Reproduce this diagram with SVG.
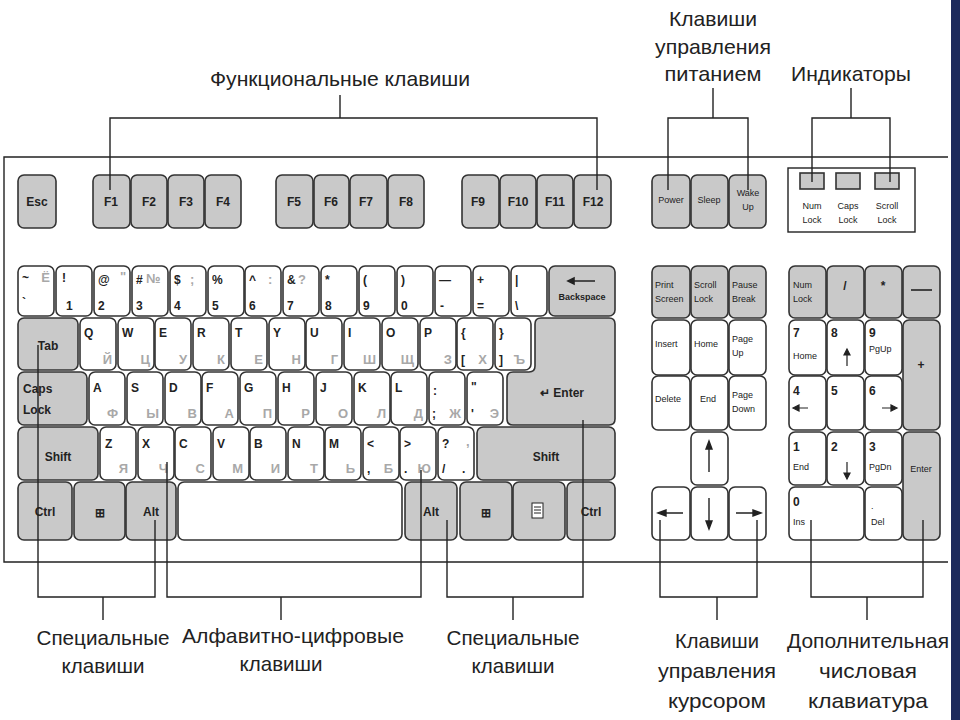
<svg xmlns="http://www.w3.org/2000/svg" width="960" height="720" viewBox="0 0 960 720">
<style>
.k{fill:#fff;stroke:#333;stroke-width:1.6}
.g{fill:#c9c9c9;stroke:#333;stroke-width:1.6}
text{font-family:"Liberation Sans",Arial,sans-serif}
.t{font-size:12px;font-weight:bold;fill:#222}
.s{font-size:9px;fill:#222}
.c{font-size:13px;fill:#a8a8a8;font-weight:bold}
.L{font-size:21px;fill:#222}
.ln{fill:none;stroke:#222;stroke-width:1.4}
</style>
<rect width="960" height="720" fill="#fff"/>
<rect x="951" y="0" width="9" height="720" fill="#1c2a5c"/>
<path class="ln" d="M948,157 H4 V562 H948" stroke-width="1.6"/>
<g id="fkeys" text-anchor="middle">
<rect class="g" x="18" y="175" width="38" height="53" rx="6"/><text class="t" x="37" y="206" font-size="11">Esc</text>
<rect class="g" x="93" y="175" width="37" height="53" rx="6"/><text class="t" x="111" y="206">F1</text>
<rect class="g" x="131" y="175" width="36" height="53" rx="6"/><text class="t" x="149" y="206">F2</text>
<rect class="g" x="168" y="175" width="36" height="53" rx="6"/><text class="t" x="186" y="206">F3</text>
<rect class="g" x="205" y="175" width="36" height="53" rx="6"/><text class="t" x="223" y="206">F4</text>
<rect class="g" x="276" y="175" width="37" height="53" rx="6"/><text class="t" x="294" y="206">F5</text>
<rect class="g" x="314" y="175" width="35" height="53" rx="6"/><text class="t" x="331" y="206">F6</text>
<rect class="g" x="350" y="175" width="37" height="53" rx="6"/><text class="t" x="366" y="206">F7</text>
<rect class="g" x="388" y="175" width="36" height="53" rx="6"/><text class="t" x="406" y="206">F8</text>
<rect class="g" x="462" y="175" width="37" height="53" rx="6"/><text class="t" x="478" y="206">F9</text>
<rect class="g" x="500" y="175" width="36" height="53" rx="6"/><text class="t" x="518" y="206">F10</text>
<rect class="g" x="537" y="175" width="36" height="53" rx="6"/><text class="t" x="555" y="206">F11</text>
<rect class="g" x="574" y="175" width="37" height="53" rx="6"/><text class="t" x="593" y="206">F12</text>
</g>
<g id="power" text-anchor="middle">
<rect class="g" x="652" y="175" width="38" height="53" rx="6"/><text class="s" x="671" y="203">Power</text>
<rect class="g" x="691" y="175" width="37" height="53" rx="6"/><text class="s" x="709" y="203">Sleep</text>
<rect class="g" x="729" y="175" width="37" height="53" rx="6"/><text class="s" x="748" y="196">Wake</text><text class="s" x="748" y="210" font-size="10">Up</text>
</g>
<g id="indicators" text-anchor="middle">
<rect x="788" y="168" width="127" height="64" fill="#fff" stroke="#222" stroke-width="1.4"/>
<rect class="g" x="800" y="173" width="24" height="16"/><rect class="g" x="836" y="173" width="24" height="16"/><rect class="g" x="875" y="173" width="24" height="16"/>
<text class="s" x="812" y="209">Num</text><text class="s" x="812" y="223">Lock</text>
<text class="s" x="848" y="209">Caps</text><text class="s" x="848" y="223">Lock</text>
<text class="s" x="887" y="209">Scroll</text><text class="s" x="887" y="223">Lock</text>
</g>
<g id="row1">
<rect class="k" x="18" y="266" width="36" height="50" rx="6"/><text class="t" x="22" y="282">~</text><text class="t" x="22" y="307">`</text><text class="c" x="50" y="282" text-anchor="end">Ё</text>
<rect class="k" x="56" y="266" width="36" height="50" rx="6"/><text class="t" x="62" y="282">!</text><text class="t" x="66" y="310">1</text>
<rect class="k" x="94" y="266" width="36" height="50" rx="6"/><text class="t" x="98" y="284">@</text><text class="c" x="120" y="281" font-size="10">"</text><text class="t" x="98" y="310">2</text>
<rect class="k" x="132" y="266" width="36" height="50" rx="6"/><text class="t" x="136" y="284">#</text><text class="c" x="146" y="283" font-size="10">№</text><text class="t" x="136" y="310">3</text>
<rect class="k" x="170" y="266" width="36" height="50" rx="6"/><text class="t" x="174" y="284">$</text><text class="c" x="190" y="284">;</text><text class="t" x="174" y="310">4</text>
<rect class="k" x="208" y="266" width="36" height="50" rx="6"/><text class="t" x="212" y="284">%</text><text class="t" x="212" y="310">5</text>
<rect class="k" x="245" y="266" width="36" height="50" rx="6"/><text class="t" x="249" y="284">^</text><text class="c" x="268" y="284">:</text><text class="t" x="249" y="310">6</text>
<rect class="k" x="283" y="266" width="36" height="50" rx="6"/><text class="t" x="287" y="284">&amp;</text><text class="c" x="298" y="284">?</text><text class="t" x="287" y="310">7</text>
<rect class="k" x="321" y="266" width="36" height="50" rx="6"/><text class="t" x="325" y="284">*</text><text class="t" x="325" y="310">8</text>
<rect class="k" x="359" y="266" width="36" height="50" rx="6"/><text class="t" x="363" y="284">(</text><text class="t" x="363" y="310">9</text>
<rect class="k" x="397" y="266" width="36" height="50" rx="6"/><text class="t" x="401" y="284">)</text><text class="t" x="401" y="310">0</text>
<rect class="k" x="435" y="266" width="36" height="50" rx="6"/><text class="t" x="439" y="284">—</text><text class="t" x="440" y="310">-</text>
<rect class="k" x="473" y="266" width="36" height="50" rx="6"/><text class="t" x="477" y="284">+</text><text class="t" x="477" y="310">=</text>
<rect class="k" x="511" y="266" width="36" height="50" rx="6"/><text class="t" x="515" y="284">|</text><text class="t" x="515" y="310">\</text>
<rect class="g" x="549" y="266" width="66" height="50" rx="6"/><path d="M568,281 H595 M568,281 l6,-3 v6z" stroke="#222" stroke-width="1.6" fill="#222"/><text class="s" x="582" y="300" text-anchor="middle" font-weight="bold" font-size="8.5">Backspace</text>
</g>
<g id="row2">
<rect class="g" x="18" y="318" width="60" height="52" rx="6"/><text class="t" x="48" y="350" text-anchor="middle">Tab</text>
<rect class="k" x="80" y="318" width="36" height="52" rx="6"/><text class="t" x="84" y="337" font-size="13">Q</text><text class="c" x="112" y="364" text-anchor="end">Й</text>
<rect class="k" x="118" y="318" width="36" height="52" rx="6"/><text class="t" x="122" y="337" font-size="13">W</text><text class="c" x="150" y="364" text-anchor="end">Ц</text>
<rect class="k" x="155" y="318" width="36" height="52" rx="6"/><text class="t" x="159" y="337" font-size="13">E</text><text class="c" x="187" y="364" text-anchor="end">У</text>
<rect class="k" x="193" y="318" width="36" height="52" rx="6"/><text class="t" x="197" y="337" font-size="13">R</text><text class="c" x="225" y="364" text-anchor="end">К</text>
<rect class="k" x="231" y="318" width="36" height="52" rx="6"/><text class="t" x="235" y="337" font-size="13">T</text><text class="c" x="263" y="364" text-anchor="end">Е</text>
<rect class="k" x="269" y="318" width="36" height="52" rx="6"/><text class="t" x="273" y="337" font-size="13">Y</text><text class="c" x="301" y="364" text-anchor="end">Н</text>
<rect class="k" x="306" y="318" width="36" height="52" rx="6"/><text class="t" x="310" y="337" font-size="13">U</text><text class="c" x="338" y="364" text-anchor="end">Г</text>
<rect class="k" x="344" y="318" width="36" height="52" rx="6"/><text class="t" x="348" y="337" font-size="13">I</text><text class="c" x="376" y="364" text-anchor="end">Ш</text>
<rect class="k" x="382" y="318" width="36" height="52" rx="6"/><text class="t" x="386" y="337" font-size="13">O</text><text class="c" x="414" y="364" text-anchor="end">Щ</text>
<rect class="k" x="420" y="318" width="36" height="52" rx="6"/><text class="t" x="424" y="337" font-size="13">P</text><text class="c" x="452" y="364" text-anchor="end">З</text>
<rect class="k" x="457" y="318" width="36" height="52" rx="6"/><text class="t" x="461" y="337" font-size="13">{</text><text class="t" x="461" y="364" font-size="11">[</text><text class="c" x="487" y="364" text-anchor="end">Х</text>
<rect class="k" x="495" y="318" width="36" height="52" rx="6"/><text class="t" x="499" y="337" font-size="13">}</text><text class="t" x="499" y="364" font-size="11">]</text><text class="c" x="525" y="364" text-anchor="end">Ъ</text>
</g>
<g id="enter">
<path class="g" d="M541,318 H609 Q615,318 615,324 V419 Q615,425 609,425 H513 Q507,425 507,419 V378 Q507,372 513,372 H529 Q535,372 535,366 V324 Q535,318 541,318 Z"/>
<text class="t" x="562" y="397" text-anchor="middle" font-weight="normal" font-size="12">↵ Enter</text>
</g>
<g id="row3">
<rect class="g" x="18" y="372" width="69" height="53" rx="6"/><text class="t" x="23" y="393">Caps</text><text class="t" x="23" y="414">Lock</text>
<rect class="k" x="89" y="372" width="36" height="53" rx="6"/><text class="t" x="93" y="392" font-size="13">A</text><text class="c" x="118" y="418" text-anchor="end">Ф</text>
<rect class="k" x="127" y="372" width="36" height="53" rx="6"/><text class="t" x="131" y="392" font-size="13">S</text><text class="c" x="159" y="418" text-anchor="end">Ы</text>
<rect class="k" x="165" y="372" width="36" height="53" rx="6"/><text class="t" x="169" y="392" font-size="13">D</text><text class="c" x="197" y="418" text-anchor="end">В</text>
<rect class="k" x="202" y="372" width="36" height="53" rx="6"/><text class="t" x="206" y="392" font-size="13">F</text><text class="c" x="234" y="418" text-anchor="end">А</text>
<rect class="k" x="240" y="372" width="36" height="53" rx="6"/><text class="t" x="244" y="392" font-size="13">G</text><text class="c" x="272" y="418" text-anchor="end">П</text>
<rect class="k" x="278" y="372" width="36" height="53" rx="6"/><text class="t" x="282" y="392" font-size="13">H</text><text class="c" x="310" y="418" text-anchor="end">Р</text>
<rect class="k" x="316" y="372" width="36" height="53" rx="6"/><text class="t" x="320" y="392" font-size="13">J</text><text class="c" x="348" y="418" text-anchor="end">О</text>
<rect class="k" x="354" y="372" width="36" height="53" rx="6"/><text class="t" x="358" y="392" font-size="13">K</text><text class="c" x="386" y="418" text-anchor="end">Л</text>
<rect class="k" x="391" y="372" width="36" height="53" rx="6"/><text class="t" x="395" y="392" font-size="13">L</text><text class="c" x="423" y="418" text-anchor="end">Д</text>
<rect class="k" x="429" y="372" width="36" height="53" rx="6"/><text class="t" x="433" y="395">:</text><text class="t" x="432" y="418">;</text><text class="c" x="461" y="418" text-anchor="end">Ж</text>
<rect class="k" x="467" y="372" width="36" height="53" rx="6"/><text class="t" x="471" y="391" font-size="10">"</text><text class="t" x="471" y="418">'</text><text class="c" x="499" y="418" text-anchor="end">Э</text>
</g>
<g id="row4">
<rect class="g" x="18" y="427" width="80" height="53" rx="6"/><text class="t" x="58" y="461" text-anchor="middle">Shift</text>
<rect class="k" x="100" y="427" width="36" height="53" rx="6"/><text class="t" x="105" y="448" font-size="13">Z</text><text class="c" x="128" y="473" text-anchor="end">Я</text>
<rect class="k" x="138" y="427" width="36" height="53" rx="6"/><text class="t" x="142" y="448" font-size="13">X</text><text class="c" x="168" y="473" text-anchor="end">Ч</text>
<rect class="k" x="175" y="427" width="36" height="53" rx="6"/><text class="t" x="179" y="448" font-size="13">C</text><text class="c" x="205" y="473" text-anchor="end">С</text>
<rect class="k" x="213" y="427" width="36" height="53" rx="6"/><text class="t" x="217" y="448" font-size="13">V</text><text class="c" x="243" y="473" text-anchor="end">М</text>
<rect class="k" x="250" y="427" width="36" height="53" rx="6"/><text class="t" x="254" y="448" font-size="13">B</text><text class="c" x="280" y="473" text-anchor="end">И</text>
<rect class="k" x="288" y="427" width="36" height="53" rx="6"/><text class="t" x="292" y="448" font-size="13">N</text><text class="c" x="318" y="473" text-anchor="end">Т</text>
<rect class="k" x="325" y="427" width="36" height="53" rx="6"/><text class="t" x="329" y="448" font-size="13">M</text><text class="c" x="355" y="473" text-anchor="end">Ь</text>
<rect class="k" x="363" y="427" width="36" height="53" rx="6"/><text class="t" x="367" y="448">&lt;</text><text class="t" x="367" y="473">,</text><text class="c" x="393" y="473" text-anchor="end">Б</text>
<rect class="k" x="400" y="427" width="36" height="53" rx="6"/><text class="t" x="404" y="448">&gt;</text><text class="t" x="404" y="473">.</text><text class="c" x="431" y="473" text-anchor="end">Ю</text>
<rect class="k" x="438" y="427" width="36" height="53" rx="6"/><text class="t" x="442" y="448">?</text><text class="c" x="466" y="446">,</text><text class="t" x="442" y="473">/</text><text class="t" x="462" y="473">.</text>
<rect class="g" x="477" y="427" width="138" height="53" rx="6"/><text class="t" x="546" y="461" text-anchor="middle">Shift</text>
</g>
<g id="row5" text-anchor="middle">
<rect class="g" x="18" y="482" width="54" height="58" rx="6"/><text class="t" x="45" y="516">Ctrl</text>
<rect class="g" x="74" y="482" width="51" height="58" rx="6"/><text class="t" x="100" y="517" font-size="13">⊞</text>
<rect class="g" x="126" y="482" width="50" height="58" rx="6"/><text class="t" x="151" y="516">Alt</text>
<rect class="k" x="178" y="482" width="224" height="58" rx="6"/>
<rect class="g" x="405" y="482" width="52" height="58" rx="6"/><text class="t" x="431" y="516">Alt</text>
<rect class="g" x="460" y="482" width="52" height="58" rx="6"/><text class="t" x="486" y="517" font-size="13">⊞</text>
<rect class="g" x="513" y="482" width="52" height="58" rx="6"/><rect x="532" y="503" width="11" height="15" fill="#fff" stroke="#222"/><path d="M534,507h7M534,510h7M534,513h7" stroke="#222"/>
<rect class="g" x="567" y="482" width="48" height="58" rx="6"/><text class="t" x="591" y="516">Ctrl</text>
</g>
<g id="nav" font-size="9">
<rect class="g" x="652" y="266" width="38" height="52" rx="6"/><text class="s" x="655" y="288">Print</text><text class="s" x="655" y="302">Screen</text>
<rect class="g" x="691" y="266" width="37" height="52" rx="6"/><text class="s" x="694" y="288">Scroll</text><text class="s" x="694" y="302">Lock</text>
<rect class="g" x="729" y="266" width="37" height="52" rx="6"/><text class="s" x="732" y="288">Pause</text><text class="s" x="732" y="302">Break</text>
<rect class="k" x="652" y="320" width="38" height="55" rx="6"/><text class="s" x="655" y="347">Insert</text>
<rect class="k" x="691" y="320" width="37" height="55" rx="6"/><text class="s" x="694" y="347">Home</text>
<rect class="k" x="729" y="320" width="37" height="55" rx="6"/><text class="s" x="732" y="342">Page</text><text class="s" x="732" y="356">Up</text>
<rect class="k" x="652" y="376" width="38" height="54" rx="6"/><text class="s" x="655" y="402">Delete</text>
<rect class="k" x="691" y="376" width="37" height="54" rx="6"/><text class="s" x="700" y="402">End</text>
<rect class="k" x="729" y="376" width="37" height="54" rx="6"/><text class="s" x="732" y="398">Page</text><text class="s" x="732" y="412">Down</text>
<rect class="k" x="691" y="432" width="37" height="53" rx="6"/><path d="M709,472V444M709,441l-3,8h6z" stroke="#222" stroke-width="1.4" fill="#222"/>
<rect class="k" x="652" y="487" width="38" height="53" rx="6"/><path d="M683,513H661M658,513l8,-3v6z" stroke="#222" stroke-width="1.4" fill="#222"/>
<rect class="k" x="691" y="487" width="37" height="53" rx="6"/><path d="M709,498V526M709,529l-3,-8h6z" stroke="#222" stroke-width="1.4" fill="#222"/>
<rect class="k" x="729" y="487" width="37" height="53" rx="6"/><path d="M736,513H758M761,513l-8,-3v6z" stroke="#222" stroke-width="1.4" fill="#222"/>
</g>
<g id="numpad">
<rect class="g" x="789" y="266" width="37" height="52" rx="6"/><text class="s" x="793" y="288">Num</text><text class="s" x="793" y="302">Lock</text>
<rect class="g" x="827" y="266" width="37" height="52" rx="6"/><text class="t" x="845" y="290" text-anchor="middle">/</text>
<rect class="g" x="865" y="266" width="37" height="52" rx="6"/><text class="t" x="883" y="290" text-anchor="middle">*</text>
<rect class="g" x="903" y="266" width="37" height="52" rx="6"/><path d="M911,290H932" stroke="#222" stroke-width="1.6"/>
<rect class="k" x="789" y="320" width="37" height="55" rx="6"/><text class="t" x="793" y="337">7</text><text class="s" x="793" y="359">Home</text>
<rect class="k" x="827" y="320" width="37" height="55" rx="6"/><text class="t" x="831" y="337">8</text><path d="M847,366V352M847,349l-3,6h6z" stroke="#222" stroke-width="1.2" fill="#222"/>
<rect class="k" x="865" y="320" width="37" height="55" rx="6"/><text class="t" x="869" y="337">9</text><text class="s" x="869" y="352">PgUp</text>
<rect class="g" x="903" y="320" width="37" height="110" rx="6"/><text class="t" x="921" y="369" text-anchor="middle">+</text>
<rect class="k" x="789" y="376" width="37" height="54" rx="6"/><text class="t" x="793" y="395">4</text><path d="M808,408H796M793,408l6,-3v6z" stroke="#222" stroke-width="1.2" fill="#222"/>
<rect class="k" x="827" y="376" width="37" height="54" rx="6"/><text class="t" x="831" y="395">5</text>
<rect class="k" x="865" y="376" width="37" height="54" rx="6"/><text class="t" x="869" y="395">6</text><path d="M882,408H894M897,408l-6,-3v6z" stroke="#222" stroke-width="1.2" fill="#222"/>
<rect class="k" x="789" y="432" width="37" height="53" rx="6"/><text class="t" x="793" y="451">1</text><text class="s" x="793" y="470">End</text>
<rect class="k" x="827" y="432" width="37" height="53" rx="6"/><text class="t" x="831" y="451">2</text><path d="M847,462V476M847,479l-3,-6h6z" stroke="#222" stroke-width="1.2" fill="#222"/>
<rect class="k" x="865" y="432" width="37" height="53" rx="6"/><text class="t" x="869" y="451">3</text><text class="s" x="869" y="470">PgDn</text>
<rect class="g" x="903" y="432" width="37" height="108" rx="6"/><text class="s" x="921" y="472" text-anchor="middle">Enter</text>
<rect class="k" x="789" y="487" width="75" height="53" rx="6"/><text class="t" x="793" y="506">0</text><text class="s" x="793" y="525">Ins</text>
<rect class="k" x="865" y="487" width="37" height="53" rx="6"/><text class="s" x="871" y="509">.</text><text class="s" x="871" y="525">Del</text>
</g>
<g id="connectors" class="ln">
<path d="M340,95V118M110,190V118H597V190"/>
<path d="M713,88V118M668,190V118H748V190"/>
<path d="M851,88V118M812,182V118H890V182"/>
<path d="M38,345V597H155V520M103,597V620"/>
<path d="M167,462V597H421V470M281,597V620"/>
<path d="M447,520V597H583V420M513,597V620"/>
<path d="M660,520V597H757V520M717,597V620"/>
<path d="M811,520V597H923V520M867,597V620"/>
</g>
<g id="labels" class="L" text-anchor="middle">
<text x="340" y="86" textLength="260" lengthAdjust="spacingAndGlyphs">Функциональные клавиши</text>
<text x="713" y="26" textLength="88" lengthAdjust="spacingAndGlyphs">Клавиши</text>
<text x="713" y="54" textLength="116" lengthAdjust="spacingAndGlyphs">управления</text>
<text x="713" y="81" textLength="97" lengthAdjust="spacingAndGlyphs">питанием</text>
<text x="851" y="81" textLength="120" lengthAdjust="spacingAndGlyphs">Индикаторы</text>
<text x="103" y="645" textLength="133" lengthAdjust="spacingAndGlyphs">Специальные</text>
<text x="103" y="673" textLength="83" lengthAdjust="spacingAndGlyphs">клавиши</text>
<text x="293" y="643" textLength="222" lengthAdjust="spacingAndGlyphs">Алфавитно-цифровые</text>
<text x="281" y="671" textLength="83" lengthAdjust="spacingAndGlyphs">клавиши</text>
<text x="513" y="645" textLength="133" lengthAdjust="spacingAndGlyphs">Специальные</text>
<text x="513" y="673" textLength="83" lengthAdjust="spacingAndGlyphs">клавиши</text>
<text x="717" y="648" textLength="84" lengthAdjust="spacingAndGlyphs">Клавиши</text>
<text x="717" y="678" textLength="118" lengthAdjust="spacingAndGlyphs">управления</text>
<text x="717" y="708" textLength="98" lengthAdjust="spacingAndGlyphs">курсором</text>
<text x="868" y="648" textLength="162" lengthAdjust="spacingAndGlyphs">Дополнительная</text>
<text x="868" y="678" textLength="98" lengthAdjust="spacingAndGlyphs">числовая</text>
<text x="868" y="708" textLength="120" lengthAdjust="spacingAndGlyphs">клавиатура</text>
</g>
</svg>
